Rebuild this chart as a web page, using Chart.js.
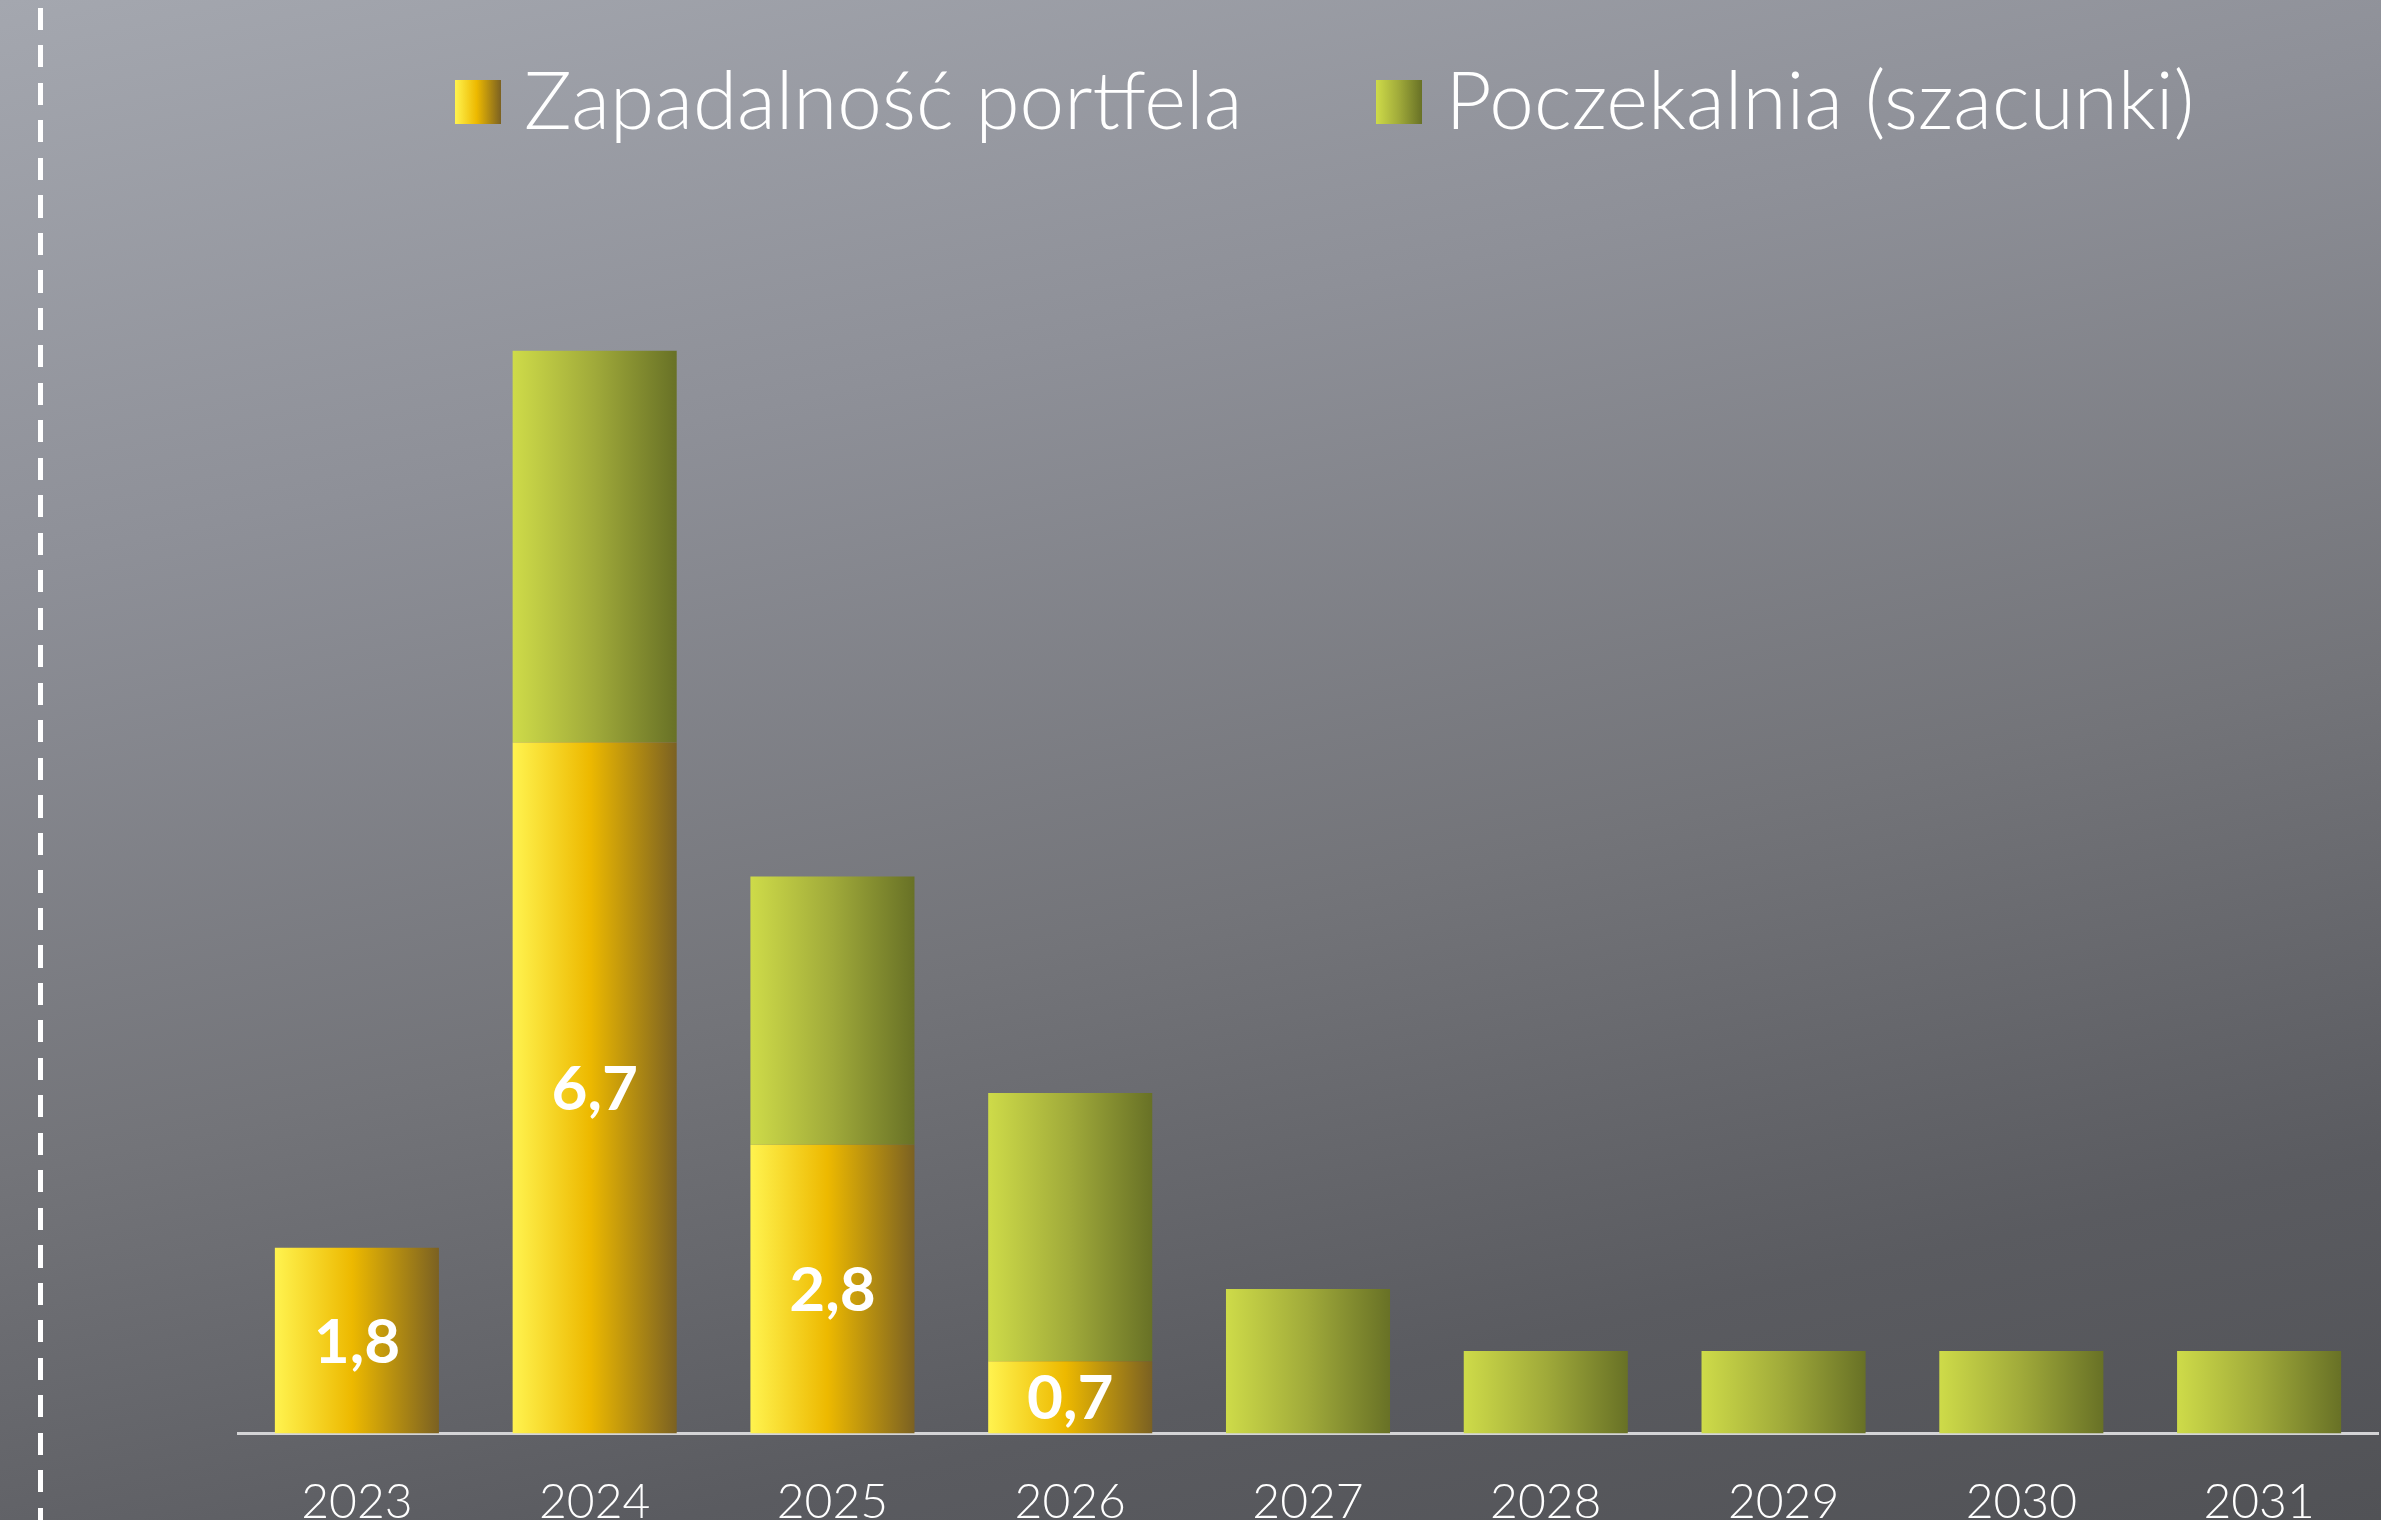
<!DOCTYPE html>
<html>
<head>
<meta charset="utf-8">
<script src="https://cdn.jsdelivr.net/npm/chart.js@4.4.1/dist/chart.umd.min.js"></script>
<style>
    html, body { margin: 0; padding: 0; overflow: hidden; }
    body {
        width: 2381px;
        height: 1520px;
        position: relative;
        background: linear-gradient(168deg, #a4a7af 0%, #8e9098 28%, #737479 58%, #5a5b60 82%, #515256 100%);
        font-family: Lato, sans-serif;
    }
    #dash {
        position: absolute;
        left: 38px;
        top: 8px;
        width: 5px;
        height: 1520px;
        background: repeating-linear-gradient(to bottom, #fff 0, #fff 22px, transparent 22px, transparent 37.5px);
    }
    #maturityChart {
        position: absolute;
        left: 0;
        top: 0;
    }
    #legend {
        position: absolute;
        top: 58px;
        left: 455px;
        display: flex;
        align-items: center;
        color: #fff;
        font-weight: 300;
        font-size: 80px;
        line-height: 88px;
        white-space: nowrap;
    }
    #legend .item { display: flex; align-items: center; }
    #legend .box { width: 46px; height: 44px; margin-right: 23px; }
    #legend span { position: relative; top: -4px; }
</style>
</head>
<body>
<div id="dash"></div>
<canvas id="maturityChart" width="2381" height="1601"></canvas>
<div id="legend"></div>
<script>
    var years = ['2023', '2024', '2025', '2026', '2027', '2028', '2029', '2030', '2031'];
    var seriesNames = ['Zapadalność portfela', 'Poczekalnia (szacunki)'];
    var portfolioValues = [1.8, 6.7, 2.8, 0.7, null, null, null, null, null];
    var waitingValues = [null, 3.8, 2.6, 2.6, 1.4, 0.8, 0.8, 0.8, 0.8];

    var yellowStops = [[0, '#fff34f'], [0.47, '#edb900'], [1, '#7b6122']];
    var greenStops = [[0, '#cedb49'], [0.5, '#a0aa3a'], [1, '#687126']];
    var barPct = 0.69;

    function barGradient(stops) {
        return function (ctx) {
            var chart = ctx.chart;
            var x = chart.scales.x;
            if (!chart.chartArea || !x || ctx.dataIndex === undefined) return stops[1][1];
            var center = x.getPixelForValue(ctx.dataIndex);
            var half = x.width / years.length * barPct / 2;
            var g = chart.ctx.createLinearGradient(center - half, 0, center + half, 0);
            stops.forEach(function (s) { g.addColorStop(s[0], s[1]); });
            return g;
        };
    }

    function cssGradient(stops) {
        return 'linear-gradient(to right, ' + stops.map(function (s) {
            return s[1] + ' ' + (s[0] * 100) + '%';
        }).join(', ') + ')';
    }

    // etykiety wartości w żółtych słupkach
    var valueLabels = {
        id: 'valueLabels',
        afterDatasetsDraw: function (chart) {
            var ctx = chart.ctx;
            var meta = chart.getDatasetMeta(0);
            ctx.save();
            ctx.fillStyle = '#fff';
            ctx.font = 'bold 62px Lato';
            ctx.textAlign = 'center';
            ctx.textBaseline = 'middle';
            meta.data.forEach(function (bar, i) {
                var v = portfolioValues[i];
                if (v === null) return;
                ctx.fillText(v.toFixed(1).replace('.', ','), bar.x, (bar.y + bar.base) / 2 + 2);
            });
            ctx.restore();
        }
    };

    new Chart('maturityChart', {
        type: 'bar',
        data: {
            labels: years,
            datasets: [{
                label: seriesNames[0],
                data: portfolioValues,
                backgroundColor: barGradient(yellowStops)
            }, {
                label: seriesNames[1],
                data: waitingValues,
                backgroundColor: barGradient(greenStops)
            }]
        },
        options: {
            responsive: false,
            animation: false,
            layout: { padding: { top: 196, left: 238, right: 3, bottom: 30 } },
            datasets: { bar: { categoryPercentage: 1, barPercentage: barPct } },
            plugins: {
                legend: { display: false },
                tooltip: { enabled: false }
            },
            scales: {
                x: {
                    stacked: true,
                    grid: { display: false, drawTicks: false },
                    border: { display: true, color: '#d4d4d6', width: 3 },
                    ticks: {
                        color: '#fff',
                        padding: 40,
                        font: { family: 'Lato', weight: '300', size: 48 }
                    }
                },
                y: {
                    stacked: true,
                    display: false,
                    min: 0,
                    max: 12
                }
            }
        },
        plugins: [valueLabels]
    });

    var legend = document.getElementById('legend');
    [yellowStops, greenStops].forEach(function (stops, i) {
        var item = document.createElement('div');
        item.className = 'item';
        if (i > 0) item.style.marginLeft = '134px';
        var box = document.createElement('div');
        box.className = 'box';
        box.style.background = cssGradient(stops);
        var text = document.createElement('span');
        text.textContent = seriesNames[i];
        item.appendChild(box);
        item.appendChild(text);
        legend.appendChild(item);
    });
</script>
</body>
</html>
